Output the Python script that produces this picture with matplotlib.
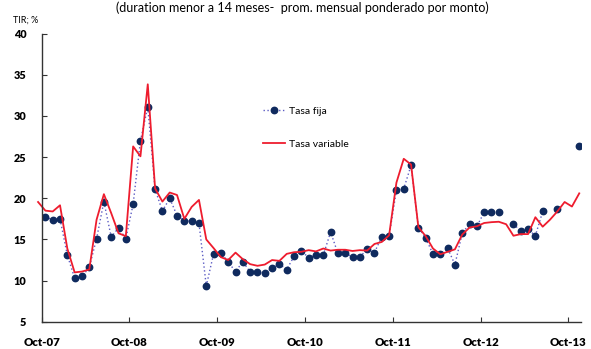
import matplotlib
matplotlib.use("Agg")
import matplotlib.pyplot as plt
import numpy as np

plt.rcParams["font.family"] = ["Lato", "DejaVu Sans"]

# Monthly rates, Sep-07 .. Oct-13 (NaN = no fixed-rate issue that month)
nan = np.nan
tasa_fija = [
    nan, 17.75, 17.4, 17.5, 13.1, 10.3, 10.5, 11.6, 15.1, 19.6, 15.3, 16.4,
    15.1, 19.3, 27.0, 31.1, 21.1, 18.45, 20.0, 17.9, 17.3, 17.2, 17.0, 9.35,
    13.25, 13.4, 12.25, 11.1, 12.3, 11.05, 11.0, 10.95, 11.5, 12.0, 11.35, 12.95,
    13.6, 12.8, 13.15, 13.1, 15.9, 13.3, 13.3, 12.9, 12.85, 13.85, 13.4, 15.35,
    15.4, 21.0, 21.15, 24.0, 16.45, 15.2, 13.2, 13.25, 13.95, 11.95, 15.75, 16.9,
    16.6, 18.3, 18.3, 18.35, nan, 16.9, 16.0, 16.25, 15.45, 18.4, nan, 18.7,
    nan, nan, 26.35,
]
tasa_variable = [
    19.55, 18.5, 18.4, 19.15, 13.9, 11.0, 11.1, 11.35, 17.4, 20.5, 18.2, 15.75,
    15.4, 26.3, 25.1, 33.85, 21.2, 19.6, 20.7, 20.4, 17.5, 18.95, 19.8, 15.0,
    13.95, 12.85, 12.5, 13.4, 12.6, 12.0, 11.8, 11.95, 12.5, 12.4, 13.25, 13.45,
    13.5, 13.7, 13.55, 13.9, 13.65, 13.75, 13.75, 13.6, 13.7, 13.65, 14.45, 14.7,
    15.5, 21.9, 24.8, 24.1, 16.5, 15.4, 13.9, 13.2, 13.5, 13.8, 15.6, 16.45,
    16.6, 17.0, 17.1, 17.15, 16.85, 15.45, 15.65, 15.65, 17.7, 16.55, 17.4, 18.4,
    19.55, 19.0, 20.6,
]
tick_labels = ["Oct-07", "Oct-08", "Oct-09", "Oct-10", "Oct-11", "Oct-12", "Oct-13"]

x = np.arange(len(tasa_variable))
tick_pos = 0.5 + 12 * np.arange(len(tick_labels))

fig = plt.figure(figsize=(5.91, 3.49), dpi=100)
ax = fig.add_axes([0.0706, 0.078, 0.912, 0.8256])

ax.plot(x, tasa_fija, color="#5c5cc4", lw=1.0, ls=(0, (1, 1.8)),
        marker="o", ms=4.6, mfc="#0f2a5e", mec="#0f2a5e", label="Tasa fija")
ax.plot(x, tasa_variable, color="#ee1c2e", lw=1.3, label="Tasa variable",
        clip_on=False)

ax.set_xlim(0.5, 74.2)
ax.set_ylim(5, 40)
ax.set_yticks(np.arange(5, 41, 5))
ax.set_xticks(tick_pos)
ax.set_xticklabels(tick_labels)

for s in ["top", "right"]:
    ax.spines[s].set_visible(False)
for s in ["left", "bottom"]:
    ax.spines[s].set_color("#333333")
    ax.spines[s].set_linewidth(1.0)

ax.tick_params(axis="y", direction="in", length=3.5, width=0.8, pad=11,
               labelsize=7.8, colors="#333333", labelcolor="black")
ax.tick_params(axis="x", direction="in", length=3.5, width=0.8, pad=11,
               labelsize=8.2, colors="#333333", labelcolor="black")
for lbl in ax.get_xticklabels() + ax.get_yticklabels():
    lbl.set_fontweight("heavy")

leg = ax.legend(loc="upper left", bbox_to_anchor=(0.4, 0.765), frameon=False,
                fontsize=7.5, handlelength=2.2, handletextpad=0.3,
                labelspacing=2.3, borderpad=0)

fig.text(0.512, 0.979, "(duration menor a 14 meses-  prom. mensual ponderado por monto)",
         ha="center", va="center", fontsize=9)
fig.text(0.022, 0.943, "TIR; %", ha="left", va="center", fontsize=6.5)

fig.savefig("out.png", dpi=100)
